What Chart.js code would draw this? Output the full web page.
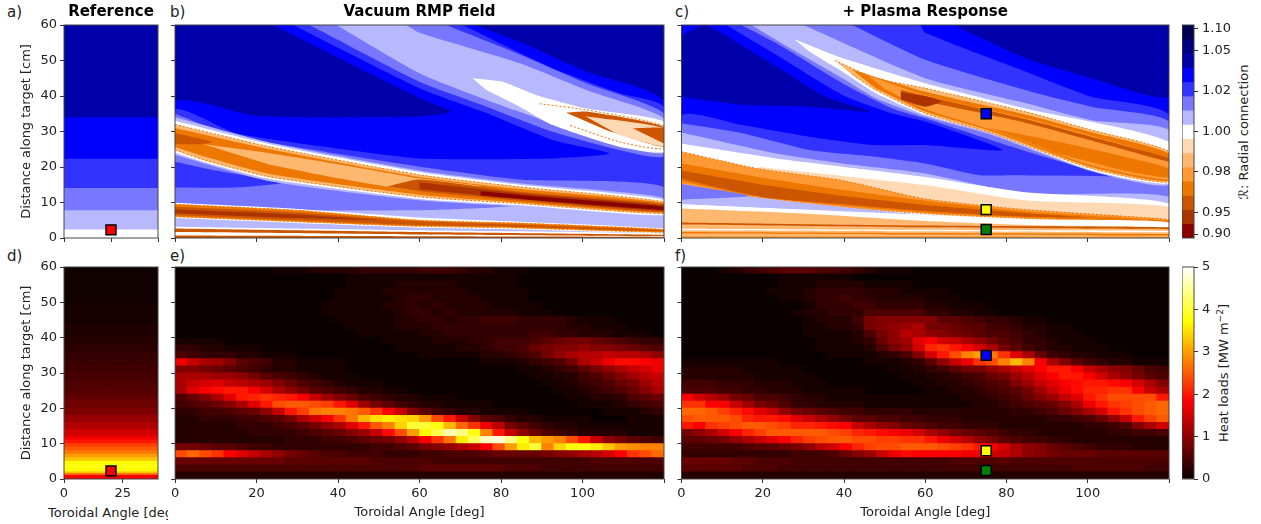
<!DOCTYPE html>
<html>
<head>
<meta charset="utf-8">
<script src="https://cdn.jsdelivr.net/npm/chart.js@4"></script>
<style>
body { margin: 0; background: #fff; font-family: "DejaVu Sans"; color: #222; }
canvas { position: absolute; }
.lbl { position: absolute; font-size: 15px; line-height: 18px; white-space: nowrap; }
.rot { position: absolute; font-size: 13px; white-space: nowrap; transform: translate(-50%, -50%) rotate(-90deg); }
</style>
</head>
<body>
<div class="lbl" style="left:7px;top:3px">a)</div>
<div class="lbl" style="left:170px;top:3px">b)</div>
<div class="lbl" style="left:675px;top:3px">c)</div>
<div class="lbl" style="left:7px;top:247px">d)</div>
<div class="lbl" style="left:170px;top:247px">e)</div>
<div class="lbl" style="left:675px;top:247px">f)</div>
<div class="lbl" style="left:48px;top:504px;width:120px;overflow:hidden;font-size:13px">Toroidal Angle [deg]</div>
<div class="rot" style="left:1243px;top:132px">ℛ: Radial connection</div>
<div class="rot" style="left:1223px;top:373px">Heat loads [MW m<sup style="font-size:9px">−2</sup>]</div>
<script>
// contour levels, top of the colorbar first
const levels = ['#000050', '#000080', '#0000aa', '#0000ff', '#3333ff', '#7777ff', '#b8b8ff', '#ffffff',
    '#ffd9b3', '#ffb870', '#ff9933', '#ee7700', '#cc5500', '#aa3300', '#880000'];
const cbarTickPos = [0.28, 1.78, 4.65, 7.49, 10.35, 13.2, 14.72];
const cbarTickText = ['0.90', '0.95', '0.98', '1.00', '1.02', '1.05', '1.10'];

const yTicks = [0, 10, 20, 30, 40, 50, 60];
const wideTicks = [0, 20, 40, 60, 80, 100, 120];
const narrowTopTicks = [0, 20, 40];
const narrowBottomTicks = [0, 25];
const heatTicks = [0, 1, 2, 3, 4, 5];

// marker positions: angle, distance
const refMarker = [20, 2.3];
const plasmaMarkers = [[75, 35], [75, 8], [75, 2.4]];
const plasmaMarkerColors = ['#0000ff', '#ffff00', '#008000'];

// [level, outline in deg/cm, dashed edge]; painted in this order
const aContours = [
    [2, [[0, 0], [40, 0], [40, 60], [0, 60]]],
    [3, [[0, 0], [40, 0], [40, 34], [0, 34]]],
    [4, [[0, 0], [40, 0], [40, 22.3], [0, 22.3]]],
    [5, [[0, 0], [40, 0], [40, 14.1], [0, 14.1]]],
    [6, [[0, 0], [40, 0], [40, 7.8], [0, 7.8]]],
    [7, [[0, 0], [40, 0], [40, 2.4], [0, 2.4]]]
];

const bContours = [
    [2, [[0, 0], [120, 0], [120, 60], [0, 60]]],
    [3, [[24, 60], [60, 39.4], [67.8, 35.6], [60, 34.2], [20, 34.4], [0, 38.2], [0, 0], [120, 0], [120, 38.4], [100.9, 46.9], [84.6, 55.3], [73.5, 60]]],
    [4, [[29, 60], [60, 42.2], [76.4, 35.2], [92.7, 27.6], [106.6, 23.8], [92, 22.4], [60, 22.4], [36.8, 25.7], [15, 29.5], [0, 36], [0, 0], [120, 0], [120, 36.8], [109, 40.8], [92.7, 47.8], [70.6, 60]]],
    [5, [[33, 60], [60, 44], [76.4, 37], [92.7, 29.9], [109, 24.8], [120, 23], [120, 35.1], [100.9, 43.6], [84.6, 51.7], [66.6, 60]]],
    [6, [[39.6, 60], [60, 46.4], [76.4, 38.9], [92.7, 32.3], [109, 26.2], [120, 24], [120, 33.7], [100.9, 41.7], [84.6, 49.2], [60, 57.8], [56.8, 60]]],
    [7, [[73, 45], [80.4, 44], [88.6, 40.3], [100.9, 36.5], [120, 32.8], [120, 24.3], [109, 25.7], [92.7, 31.8], [84.6, 37], [76.4, 41.7]]],
    [7, [[89.5, 37.8], [100.9, 36.1], [120, 31.5], [120, 25.2], [109, 27.1], [96.8, 31.8]], true],
    [12, [[96, 35.3], [100.9, 35.6], [120, 31.3], [120, 25.7], [105.8, 30.4]]],
    [8, [[100.7, 34.3], [120, 30.9], [120, 25.9], [109, 29]]],
    [12, [[112.3, 30.9], [120, 30.9], [120, 26.6]]],
    [5, [[0, 35], [15, 28.5], [36.8, 24.3], [60, 20.1], [84.6, 16.5], [120, 14.4], [120, 0], [0, 0]]],
    [4, [[0, 21.5], [10, 19], [26.5, 15.6], [15, 14.2], [0, 14.2]]],
    [6, [[0, 34], [23.3, 26.9], [60, 19], [84.6, 15.4], [120, 11.3], [120, 6], [84.6, 8.8], [60, 10.6], [23.3, 16], [0, 23.4]]],
    [6, [[0, 7.8], [60, 7.8], [76.8, 8.5], [90, 9.5], [120, 9], [120, 0], [0, 0]]],
    [7, [[0, 33], [23.3, 26.4], [60, 18.6], [84.6, 15], [120, 10.8], [120, 6.4], [84.6, 9.2], [60, 11], [23.3, 16.6], [7, 21.4], [0, 24]]],
    [9, [[0, 32], [23.3, 25.7], [60, 17.8], [84.6, 14.4], [120, 10.2], [120, 6.9], [84.6, 9.7], [60, 11.6], [23.3, 17.2], [7, 22], [0, 24.8]], true],
    [11, [[0, 31], [23.3, 25], [60, 17.2], [84.6, 13.8], [120, 9.9], [120, 7.1], [84.6, 10], [60, 12.2], [23.3, 18], [7, 23], [0, 25.6]]],
    [9, [[7, 26.4], [23.3, 23.9], [40, 20.8], [60, 16.8], [75, 14.6], [75, 14], [60, 13.2], [40, 16.8], [23.3, 20.6]]],
    [12, [[0, 29.5], [6, 28], [9, 27], [6, 26.4], [0, 26.5]]],
    [12, [[52, 14.5], [60, 16.5], [84.6, 13], [120, 9.5], [120, 7.3], [84.6, 10.5], [60, 13.2]]],
    [13, [[60, 15.7], [84.6, 12.6], [120, 9.2], [120, 7.6], [84.6, 10.9], [60, 13.7]]],
    [14, [[75, 13.2], [90, 11.6], [120, 8.8], [120, 7.9], [90, 10.5], [75, 12]]],
    [7, [[0, 9.9], [30, 8.2], [60, 5.8], [84.6, 4.6], [120, 2.7], [120, 1.4], [84.6, 2.4], [60, 2.9], [30, 4.2], [0, 5.6]]],
    [11, [[0, 9.5], [30, 7.8], [60, 5], [84.6, 4.2], [120, 2.4], [120, 1.6], [84.6, 2.8], [60, 3.3], [30, 4.6], [0, 6]], true],
    [12, [[0, 8.8], [30, 7.2], [60, 4.7], [84.6, 3.8], [120, 2.2], [120, 1.9], [84.6, 3.1], [60, 3.6], [30, 5], [0, 6.5]]],
    [13, [[0, 8], [30, 6.6], [50, 5], [30, 5.6], [0, 7]]],
    [7, [[0, 3.2], [60, 2.2], [120, 1.3], [120, 0], [0, 0]]],
    [12, [[0, 2.7], [60, 1.7], [120, 0.9], [120, 0.5], [60, 1], [0, 1.7]]],
    [12, [[0, 0.7], [60, 0.5], [120, 0.3], [120, 0], [0, 0]]]
];

const cContours = [
    [3, [[0, 0], [120, 0], [120, 60], [0, 60]]],
    [2, [[67, 60], [84.6, 50.7], [100.9, 45], [120, 39.8], [120, 60]]],
    [2, [[0, 57], [5.7, 60], [23.3, 48.3], [35.5, 39.8], [46.6, 35.6], [31.5, 37], [15, 37.5], [0, 39.8]]],
    [4, [[11, 60], [23.3, 51.6], [39.6, 40.3], [51.9, 35.1], [60, 32.8], [79, 24.8], [60, 26.2], [47, 26.2], [31.5, 28.5], [15, 31.8], [0, 34.4], [0, 0], [120, 0], [120, 34.6], [100.9, 39.8], [84.6, 46.9], [60, 57.8], [58.8, 60]]],
    [5, [[14.7, 60], [23.3, 54.9], [39.6, 43.6], [51.9, 36.5], [60, 33.7], [76.4, 27.5], [100.9, 19], [120, 14.4], [120, 32.8], [100.9, 37], [84.6, 41.7], [60, 50.2], [42, 60]]],
    [5, [[0, 32.3], [15, 29.5], [31.5, 24.8], [47.8, 22.9], [60, 21], [73.3, 17.7], [82, 17.7], [108, 17.2], [120, 14.4], [120, 0], [0, 0]]],
    [6, [[17.2, 60], [27.4, 53], [39.6, 45], [47.8, 39.4], [60, 34.2], [76.4, 29], [100.9, 18.8], [120, 15], [120, 30.4], [100.9, 33.2], [84.6, 38], [60, 45], [30, 60]]],
    [6, [[0, 29.7], [23.3, 23.8], [39.6, 21], [60, 18.2], [84.6, 12.5], [120, 11.6], [120, 0], [0, 0]]],
    [7, [[27.8, 56], [39.6, 50.7], [60, 43.6], [84.6, 36.5], [120, 27.1], [120, 15.5], [100.9, 19.1], [76.4, 29.5], [60, 34.7], [47.8, 40.8], [39.6, 46.9], [31.5, 52.5]]],
    [7, [[0, 26.6], [23.3, 22.4], [39.6, 20.1], [60, 17.2], [84.6, 12.9], [120, 9.7], [120, 0], [0, 0]]],
    [9, [[37.8, 50], [47.8, 45], [60, 42.2], [84.6, 35.6], [100.9, 30.4], [120, 24.3], [120, 15.8], [100.9, 19.6], [76.4, 29.5], [60, 35.1], [47.8, 41.7], [42, 46]], true],
    [11, [[42, 47.4], [60, 41.2], [84.6, 34.8], [100.9, 29.8], [120, 23.8], [120, 16.1], [100.9, 20], [76.4, 30], [60, 35.6], [47.8, 42.2]]],
    [10, [[46, 45.8], [60, 40.2], [84.6, 33.8], [100.9, 28.8], [120, 22], [120, 16.5], [100.9, 20.5], [76.4, 30.5], [60, 36.3], [50, 42]]],
    [11, [[76, 30.9], [92.7, 27.1], [109, 22.9], [120, 19.6], [120, 17], [109, 19], [92.7, 23.8]]],
    [12, [[54, 41.7], [60, 40], [84.6, 33.5], [100.9, 28.5], [120, 22.5], [120, 21.5], [100.9, 27.5], [84.6, 32.5], [60, 38.5], [54, 40]]],
    [13, [[54, 41], [60, 40], [64, 38.5], [60, 37], [54, 39]]],
    [8, [[19, 20], [39.6, 17.5], [60, 14.9], [84.6, 10.6], [120, 8.8], [120, 4], [84.6, 5], [60, 7], [19, 18.8]]],
    [10, [[0, 24.3], [19, 19.5], [39.6, 16.2], [60, 11], [84.6, 8], [120, 5.2], [120, 4.2], [84.6, 5.5], [60, 6.9], [47.8, 7.8], [31.5, 9.7], [15, 12], [0, 15.3]], true],
    [11, [[0, 21], [20, 17], [40, 13.5], [60, 10.5], [84.6, 7.5], [120, 4.9], [120, 4.4], [84.6, 5.8], [60, 7.2], [31.5, 10], [15, 12.4], [0, 16]]],
    [12, [[0, 19], [20, 15], [40, 11.8], [60, 9.3], [84.6, 7], [100, 5.8], [84.6, 6], [60, 7.6], [40, 9.5], [20, 11.5], [0, 16.7]]],
    [6, [[0, 15.3], [15, 12], [31.5, 9.7], [47.8, 7.8], [56, 6.9], [80, 5], [0, 9.5]]],
    [5, [[0, 15.2], [16.7, 11.8], [0, 10.8]]],
    [7, [[0, 9.5], [30, 8], [60, 6.5], [90, 5.2], [120, 4.4], [120, 0], [0, 0]]],
    [9, [[0, 8.3], [30, 6.9], [60, 4.8], [90, 3.5], [120, 2.8], [120, 0], [0, 0]]],
    [12, [[0, 4.4], [60, 3.5], [120, 3], [120, 2.5], [60, 3], [0, 3.8]]],
    [7, [[0, 2.6], [60, 2.3], [120, 2], [120, 1.6], [60, 1.9], [0, 2.2]]],
    [11, [[0, 1.7], [60, 1.4], [120, 1.1], [120, 0.7], [60, 1], [0, 1.3]]],
    [10, [[0, 0.5], [120, 0.4], [120, 0], [0, 0]]]
];

// heat load grid, rows run from the top of the target down, tenths of MW/m2
const rowEdges = [60, 58, 56, 54, 52, 50, 48, 46, 44, 42, 40, 38, 36, 34, 32, 30, 28, 26, 24, 22, 20, 18, 16, 14, 12, 10, 8, 6, 4, 2, 0];
const colCenters = [1.5, 4.5, 7.5, 10.5, 13.5, 16.5, 19.5, 22.5, 25.5, 28.5, 31.5, 34.5, 37.5, 40.5, 43.5, 46.5, 49.5, 52.5, 55.5, 58.5,
    61.5, 64.5, 67.5, 70.5, 73.5, 76.5, 79.5, 82.5, 85.5, 88.5, 91.5, 94.5, 97.5, 100.5, 103.5, 106.5, 109.5, 112.5, 115.5, 118.5];

const heatE = [
    [0,0,0,0,0,0,0,0,1,1, 1,2,2,2,2,3,3,3,3,3, 4,4,4,3,2,2,1,1,1,0, 0,0,0,0,0,0,0,0,0,0],
    [0,0,0,0,0,0,0,0,0,0, 0,0,0,0,1,1,1,1,1,1, 1,1,1,1,1,1,1,1,0,0, 0,0,0,0,0,0,0,0,0,0],
    [0,0,0,0,0,0,0,0,0,0, 0,0,0,0,1,1,1,1,2,2, 2,2,2,1,1,1,1,1,0,0, 0,0,0,0,0,0,0,0,0,0],
    [0,0,0,0,0,0,0,0,0,0, 0,0,0,1,1,1,1,2,2,2, 2,2,2,2,1,1,1,1,1,0, 0,0,0,0,0,0,0,0,0,0],
    [0,0,0,0,0,0,0,0,0,0, 0,0,0,1,1,1,1,1,2,3, 3,2,2,2,2,1,1,1,1,0, 0,0,0,0,0,0,0,0,0,0],
    [0,0,0,0,0,0,0,0,0,0, 0,0,1,1,1,1,1,2,2,3, 2,3,2,2,2,2,1,1,1,1, 0,0,0,0,0,0,0,0,0,0],
    [0,0,0,0,0,0,0,0,0,0, 0,0,1,1,1,1,1,1,2,3, 3,2,3,2,2,2,2,2,1,1, 1,0,0,0,0,0,0,0,0,0],
    [0,0,0,0,0,0,0,0,0,0, 0,0,0,1,1,1,1,1,2,2, 3,3,2,3,3,4,4,4,3,3, 3,3,2,1,1,1,0,0,0,0],
    [0,0,0,0,0,0,0,0,0,0, 0,0,0,0,1,1,1,1,2,2, 2,3,3,3,3,3,3,3,3,3, 3,3,2,2,1,1,1,0,0,0],
    [0,0,0,0,0,0,0,0,0,0, 0,0,0,0,0,1,1,1,1,1, 2,2,3,3,3,3,3,3,3,4, 4,3,3,2,2,2,1,1,1,0],
    [1,1,1,1,0,0,0,0,0,0, 0,0,0,0,0,0,0,1,1,1, 1,2,2,2,3,3,4,4,4,5, 6,7,8,8,7,6,5,4,3,3],
    [3,3,2,2,1,1,1,0,0,0, 0,0,0,0,0,0,0,0,1,1, 1,1,1,2,2,3,4,4,5,7, 8,9,9,10,9,9,8,7,6,5],
    [5,4,3,3,3,2,2,1,1,1, 0,0,0,0,0,0,0,0,0,0, 1,1,1,1,1,2,2,3,4,5, 8,10,12,13,13,14,13,13,12,10],
    [17,14,12,11,9,6,5,4,2,2, 1,1,1,1,0,0,0,0,0,0, 0,0,0,0,0,1,1,1,2,3, 4,5,8,12,14,17,19,19,18,17],
    [9,9,8,7,6,5,4,3,2,2, 1,1,1,1,0,0,0,0,0,0, 0,0,0,0,0,0,0,0,1,1, 2,3,4,6,8,10,12,14,15,17],
    [12,12,12,11,11,10,8,6,5,4, 3,2,1,1,1,0,0,0,0,0, 0,0,0,0,0,0,0,0,0,1, 1,2,2,4,5,7,9,11,13,14],
    [12,14,15,16,14,13,12,11,9,7, 5,4,3,2,1,1,1,0,0,0, 0,0,0,0,0,0,0,0,0,0, 1,1,2,3,4,5,7,8,11,13],
    [12,16,18,19,20,20,18,15,12,10, 8,6,5,4,3,2,2,1,1,0, 0,0,0,0,0,0,0,0,0,0, 0,1,1,2,3,4,5,7,9,12],
    [5,7,9,12,16,20,21,22,21,20, 18,14,11,9,7,5,4,3,2,2, 1,1,1,0,0,0,0,0,0,0, 0,0,1,1,2,2,3,5,6,7],
    [4,5,6,7,9,12,16,20,24,25, 25,24,23,20,16,11,8,6,4,3, 2,2,1,1,1,1,0,0,0,0, 0,0,0,1,1,1,2,3,4,5],
    [3,3,4,4,5,6,7,10,14,20, 23,27,28,28,27,25,22,18,14,9, 6,4,3,2,2,1,1,1,1,0, 0,0,0,0,0,1,1,1,2,3],
    [2,2,3,3,3,4,4,5,6,8, 12,15,18,22,27,32,35,36,35,34, 30,24,20,14,9,6,5,3,2,2, 1,1,1,1,0,0,0,1,1,1],
    [2,2,2,2,2,3,3,3,4,5, 6,8,10,12,16,20,25,28,34,40, 40,38,32,26,22,17,13,8,6,4, 3,2,2,1,1,1,1,1,1,1],
    [2,2,2,2,2,2,3,3,3,3, 4,5,6,7,9,11,14,19,24,30, 37,41,46,44,38,28,20,14,10,7, 5,4,3,2,2,2,2,1,1,1],
    [2,2,2,2,2,2,2,2,2,3, 3,3,4,4,5,6,7,8,10,13, 18,22,27,36,42,47,48,44,38,32, 30,28,24,20,14,10,8,6,5,4],
    [8,8,7,6,6,5,4,4,3,3, 3,3,3,3,3,3,4,4,5,6, 8,9,10,12,14,18,24,30,36,40, 28,34,38,38,36,33,30,29,28,28],
    [24,26,24,22,18,16,14,12,10,8, 7,6,5,5,4,4,4,3,3,3, 4,4,5,5,5,6,7,7,7,7, 8,9,10,12,13,15,18,22,24,26],
    [7,7,7,7,7,7,7,7,7,6, 6,6,6,6,6,6,5,5,5,5, 5,4,4,4,4,4,4,4,4,4, 4,4,4,4,5,5,5,5,5,5],
    [5,5,5,5,5,5,5,5,5,5, 5,5,5,5,5,5,5,5,5,5, 6,6,6,6,6,6,6,5,5,5, 4,4,4,4,4,4,4,4,4,4],
    [2,2,2,2,2,2,2,2,2,2, 2,2,2,2,2,2,2,2,2,2, 2,2,2,2,2,2,2,2,2,2, 2,2,2,2,2,2,2,2,2,2]
];

const heatF = [
    [0,0,0,1,2,3,4,5,6,6, 6,5,5,4,3,2,1,1,1,0, 0,0,0,0,0,0,0,0,0,0, 0,0,0,0,0,0,0,0,0,0],
    [0,0,0,0,0,0,0,0,1,1, 1,1,1,1,0,0,0,0,0,0, 0,0,0,0,0,0,0,0,0,0, 0,0,0,0,0,0,0,0,0,0],
    [0,0,0,0,0,0,0,0,1,1, 1,2,2,2,2,1,1,1,1,0, 0,0,0,0,0,0,0,0,0,0, 0,0,0,0,0,0,0,0,0,0],
    [0,0,0,0,0,0,0,1,1,1, 2,3,3,3,3,2,2,2,1,1, 1,1,0,0,0,0,0,0,0,0, 0,0,0,0,0,0,0,0,0,0],
    [0,0,0,0,0,0,0,0,1,1, 2,3,3,4,3,3,2,2,2,2, 1,1,1,0,0,0,0,0,0,0, 0,0,0,0,0,0,0,0,0,0],
    [0,0,0,0,0,0,0,0,0,0, 1,3,3,3,4,4,3,3,3,3, 2,2,1,1,1,0,0,0,0,0, 0,0,0,0,0,0,0,0,0,0],
    [0,0,0,0,0,0,0,0,0,1, 2,2,3,3,3,5,5,5,5,5, 3,3,2,2,1,1,0,0,0,0, 0,0,0,0,0,0,0,0,0,0],
    [0,0,0,0,0,0,0,0,0,0, 1,2,2,2,4,8,9,9,9,9, 9,6,6,5,4,3,3,2,1,1, 0,0,0,0,0,0,0,0,0,0],
    [0,0,0,0,0,0,0,0,0,0, 1,1,2,2,3,8,9,10,11,12, 8,8,7,6,6,4,4,3,2,2, 1,1,0,0,0,0,0,0,0,0],
    [0,0,0,0,0,0,0,0,0,0, 1,1,1,1,2,5,8,10,13,12, 10,9,8,7,6,5,5,4,3,2, 1,1,1,0,0,0,0,0,0,0],
    [0,0,0,0,0,0,0,0,0,0, 0,1,1,1,2,3,7,10,11,16, 18,15,14,12,10,8,6,5,3,3, 2,1,1,1,0,0,0,0,0,0],
    [0,0,0,0,0,0,0,0,0,0, 0,1,1,1,1,2,5,8,10,15, 21,22,20,18,15,12,8,6,4,3, 2,2,1,1,1,0,0,0,0,0],
    [0,0,0,0,0,0,0,0,0,0, 0,0,1,1,1,1,2,3,5,9, 15,20,24,28,30,27,22,16,12,7, 4,3,2,2,1,1,1,0,0,0],
    [1,1,1,1,1,1,1,1,0,0, 0,0,0,0,0,1,1,1,2,3, 6,10,14,17,22,24,28,32,28,18, 12,9,6,4,3,2,2,1,1,1],
    [2,2,2,2,2,1,1,1,1,1, 0,0,0,0,0,0,0,1,1,2, 3,4,6,8,8,10,12,14,16,18, 20,20,18,14,12,10,9,7,5,4],
    [2,2,2,2,2,2,1,1,1,1, 1,0,0,0,0,0,0,0,1,1, 2,2,3,4,5,7,8,11,13,16, 18,20,20,18,15,12,10,8,6,5],
    [4,4,4,3,3,3,2,2,2,1, 1,1,0,0,0,0,0,0,0,1, 1,2,2,3,4,5,6,9,11,14, 16,18,19,20,20,19,18,15,12,9],
    [5,5,5,4,4,3,3,2,2,2, 1,1,1,1,1,0,0,0,0,0, 1,1,2,2,3,4,5,6,8,11, 14,17,19,21,21,22,22,18,14,12],
    [18,15,13,11,8,7,5,5,4,3, 2,2,1,1,1,1,1,1,1,1, 1,1,1,2,2,3,4,5,7,9, 11,14,16,20,22,24,24,24,24,20],
    [22,22,18,18,14,11,8,7,5,3, 3,2,2,2,2,1,1,1,1,1, 1,1,1,1,2,2,3,4,5,6, 7,9,12,17,20,22,23,24,25,26],
    [26,26,25,23,21,19,16,14,10,8, 7,6,5,4,4,3,3,3,3,2, 2,2,2,2,2,2,2,3,3,4, 5,7,9,12,15,20,22,24,25,26],
    [24,25,25,25,24,21,20,20,19,16, 14,12,10,8,6,6,5,5,4,4, 3,3,3,2,2,2,2,2,2,2, 3,3,4,5,7,10,14,20,23,25],
    [20,18,22,23,24,25,25,24,23,21, 21,20,19,18,14,12,10,9,7,6, 5,4,4,3,3,3,2,2,2,2, 2,2,2,3,3,4,5,9,12,15],
    [8,10,12,15,18,21,23,25,25,25, 25,25,24,23,21,20,19,18,17,15, 12,10,8,7,6,5,4,3,3,2, 2,2,2,2,2,3,3,4,4,5],
    [6,6,7,8,10,12,14,16,18,21, 23,24,25,25,24,24,23,23,22,22, 20,17,15,13,10,8,6,5,4,4, 3,3,2,2,2,2,2,2,2,2],
    [4,4,4,4,4,5,6,6,7,8, 10,13,15,18,21,23,24,24,25,25, 25,24,23,22,20,18,15,12,10,9, 7,6,5,4,3,3,3,2,2,2],
    [3,3,3,3,3,3,3,3,3,4, 4,4,5,7,9,11,14,17,19,18, 18,18,18,17,17,15,14,12,10,9, 8,7,7,7,6,6,6,6,6,6],
    [7,7,7,7,6,6,5,5,5,4, 4,4,4,4,4,4,4,4,4,4, 4,4,5,5,5,5,6,5,5,5, 5,5,5,5,5,5,5,5,5,5],
    [6,6,6,6,6,5,5,5,4,4, 4,4,4,4,4,4,4,4,4,4, 4,4,4,4,4,4,4,4,4,4, 4,4,5,5,5,5,5,5,4,4],
    [2,2,2,2,2,2,2,2,2,2, 2,2,2,2,2,2,2,2,2,2, 2,2,2,2,2,2,2,2,2,2, 2,2,2,2,2,2,2,2,2,2]
];

// reference profile: same value across the whole angle range
const refEdges = [60, 50, 44, 40, 38, 36, 34, 32, 30, 28, 26, 24, 22, 20, 18, 16, 14, 12, 11, 10, 9, 8, 7, 6, 5, 4, 3, 2, 1.5, 1, 0];
const refCols = [5, 15, 25, 35];
const refHeat = [0.5, 1, 1.5, 2, 2.5, 3, 3.5, 4, 4.5, 5, 5.5, 6.5, 7.5, 8.5, 10.5, 12.5, 15, 17.5, 20, 23, 25, 27, 30, 33, 37, 38, 37, 33, 26, 18];

Chart.defaults.font.family = '"DejaVu Sans"';
Chart.defaults.font.size = 13;
Chart.defaults.color = '#222';
Chart.defaults.animation = false;
Chart.defaults.responsive = false;
Chart.defaults.plugins.legend.display = false;
Chart.defaults.plugins.tooltip.enabled = false;

const frame = {
    id: 'frame',
    afterDraw(chart) {
        const a = chart.chartArea, g = chart.ctx;
        g.save();
        g.strokeStyle = '#444';
        g.lineWidth = 1;
        g.strokeRect(a.left, a.top, a.width, a.height);
        g.restore();
    }
};

// dark backing so the seams between heat cells do not show white
const backing = {
    id: 'backing',
    beforeDatasetsDraw(chart) {
        const a = chart.chartArea, g = chart.ctx;
        g.save();
        g.fillStyle = '#0b0000';
        g.fillRect(a.left, a.top, a.width, a.height);
        g.restore();
    }
};

function hot(v) {
    const t = Math.min(v / 5, 1);
    const r = Math.min(0.0416 + t / 0.365 * 0.9584, 1);
    const g = Math.max(Math.min((t - 0.365) / 0.381, 1), 0);
    const b = Math.max((t - 0.746) / 0.254, 0);
    return `rgb(${r * 255 | 0},${g * 255 | 0},${b * 255 | 0})`;
}

function makeCanvas(left, top, width, height) {
    const c = document.createElement('canvas');
    c.width = width;
    c.height = height;
    c.style.left = left + 'px';
    c.style.top = top + 'px';
    document.body.appendChild(c);
    return c;
}

const tickGrid = { drawOnChartArea: false, tickLength: 4, tickColor: '#333', offset: false };

// box: canvas left, top, w, h and the plot left, top, right, bottom
function panelOptions(box, xMax, xTicks, xLabels, yLabels, title, xTitle) {
    const [left, top, w, h, pl, pt, pr, pb] = box;
    return {
        layout: { padding: { top: title ? 0 : pt - top, right: left + w - pr } },
        plugins: {
            title: { display: !!title, text: title, fullSize: false, font: { size: 15, weight: 'bold' }, color: '#000',
                padding: { top: 3, bottom: pt - top - 21 } }
        },
        scales: {
            x: {
                type: 'linear', min: 0, max: xMax, offset: false, grid: tickGrid, border: { display: false },
                afterBuildTicks: s => { s.ticks = xTicks.map(value => ({ value })); },
                afterFit: s => { s.height = top + h - pb; },
                ticks: { autoSkip: false, maxRotation: 0, padding: 3,
                    callback: v => (xLabels && v !== 120 ? v : '') },
                title: { display: !!xTitle, text: xTitle, padding: { top: 0, bottom: 4 } }
            },
            y: {
                type: 'linear', min: 0, max: 60, grid: tickGrid, border: { display: false },
                afterBuildTicks: s => { s.ticks = yTicks.map(value => ({ value })); },
                afterFit: s => { s.width = pl - left; },
                ticks: { autoSkip: false, padding: 3, callback: v => (yLabels ? v : '') },
                title: { display: yLabels, text: 'Distance along target [cm]', padding: { top: 19, bottom: 0 } }
            }
        }
    };
}

function markerSets(points, colors) {
    return points.map((p, i) => ({
        type: 'scatter', data: [{ x: p[0], y: p[1] }], pointStyle: 'rect', pointRadius: 7,
        backgroundColor: colors[i], borderColor: '#000', borderWidth: 1.5
    }));
}

// the first dataset is drawn last, so the contour list goes in reversed
function contourChart(box, contours, xMax, xTicks, yLabels, title, markers, tension) {
    const sets = contours.map(([lvl, pts, dashed]) => ({
        data: pts.map(([x, y]) => ({ x, y })), showLine: true, fill: 'shape', pointRadius: 0, tension,
        backgroundColor: levels[lvl], borderColor: dashed ? '#ee7700' : levels[lvl],
        borderWidth: dashed ? 1 : 0, borderDash: dashed ? [2, 2] : []
    })).reverse();
    new Chart(makeCanvas(box[0], box[1], box[2], box[3]), {
        type: 'scatter',
        data: { datasets: markers.concat(sets) },
        options: panelOptions(box, xMax, xTicks, false, yLabels, title),
        plugins: [frame]
    });
}

function heatChart(box, cells, xMax, xTicks, yLabels, xTitle, markers) {
    new Chart(makeCanvas(box[0], box[1], box[2], box[3]), {
        type: 'bar',
        data: {
            datasets: markers.concat([{
                data: cells, barPercentage: 1, categoryPercentage: 1, inflateAmount: 0.5,
                backgroundColor: c => hot(c.raw ? c.raw.v : 0)
            }])
        },
        options: panelOptions(box, xMax, xTicks, true, yLabels, '', xTitle),
        plugins: [backing, frame]
    });
}

function gridCells(rows) {
    const cells = [];
    rows.forEach((row, i) => row.forEach((v, j) => {
        cells.push({ x: colCenters[j], y: [rowEdges[i + 1], rowEdges[i]], v: v / 10 });
    }));
    return cells;
}

function refCells() {
    const cells = [];
    refHeat.forEach((v, i) => refCols.forEach(x => {
        cells.push({ x, y: [refEdges[i + 1], refEdges[i]], v: v / 10 });
    }));
    return cells;
}

const refTop = markerSets([refMarker], ['#ff0000']);
const plasma = markerSets(plasmaMarkers, plasmaMarkerColors);

contourChart([0, 0, 168, 250, 64, 25, 158, 238], aContours, 40, narrowTopTicks, true, 'Reference', refTop, 0);
contourChart([168, 0, 505, 250, 175, 25, 664, 238], bContours, 120, wideTicks, false, 'Vacuum RMP field', [], 0.2);
contourChart([673, 0, 505, 250, 680, 25, 1169, 238], cContours, 120, wideTicks, false, '+ Plasma Response', plasma, 0.2);

heatChart([0, 250, 168, 274, 64, 267, 158, 479], refCells(), 40, narrowBottomTicks, true, '', refTop);
heatChart([168, 250, 505, 274, 175, 267, 664, 479], gridCells(heatE), 120, wideTicks, false, 'Toroidal Angle [deg]', []);
heatChart([673, 250, 505, 274, 680, 267, 1169, 479], gridCells(heatF), 120, wideTicks, false, 'Toroidal Angle [deg]', plasma);

// colorbars
function cbarAxis(min, max, ticks, label, width) {
    return {
        x: { display: false },
        y: {
            position: 'right', min, max, grid: { drawOnChartArea: false, tickLength: 4, tickColor: '#333' }, border: { display: false },
            afterBuildTicks: s => { s.ticks = ticks.map(value => ({ value })); },
            afterFit: s => { s.width = width; },
            ticks: { autoSkip: false, padding: 4, callback: label }
        }
    };
}

new Chart(makeCanvas(1182, 0, 79, 250), {
    type: 'bar',
    data: {
        labels: [''],
        datasets: levels.map((color, i) => ({
            data: [[14 - i, 15 - i]], backgroundColor: color, grouped: false, barPercentage: 1, categoryPercentage: 1
        }))
    },
    options: {
        layout: { padding: { top: 25, bottom: 12 } },
        scales: cbarAxis(0, 15, cbarTickPos, v => cbarTickText[cbarTickPos.indexOf(v)], 67)
    },
    plugins: [frame]
});

new Chart(makeCanvas(1182, 250, 79, 274), {
    type: 'bar',
    data: {
        labels: [''],
        datasets: [{
            data: [[0, 5]], barPercentage: 1, categoryPercentage: 1,
            backgroundColor: c => {
                const a = c.chart.chartArea;
                if (!a) return '#000';
                const g = c.chart.ctx.createLinearGradient(0, a.bottom, 0, a.top);
                g.addColorStop(0, '#0b0000');
                g.addColorStop(0.365, '#ff0000');
                g.addColorStop(0.746, '#ffff00');
                g.addColorStop(1, '#ffffff');
                return g;
            }
        }]
    },
    options: {
        layout: { padding: { top: 17, bottom: 45 } },
        scales: cbarAxis(0, 5, heatTicks, v => v, 67)
    },
    plugins: [frame]
});
</script>
</body>
</html>
